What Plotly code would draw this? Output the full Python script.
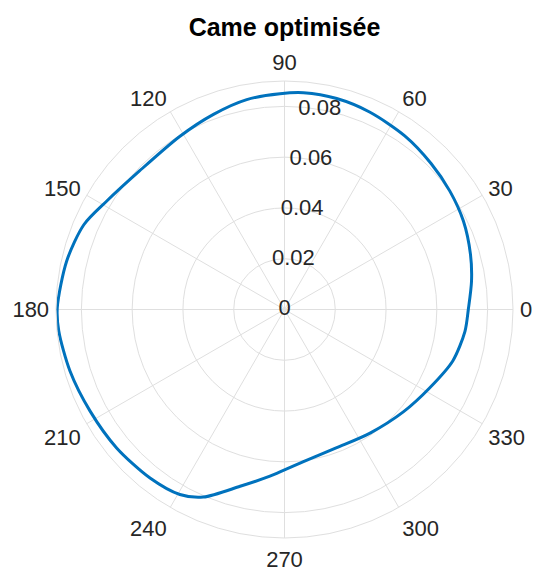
import plotly.graph_objects as go

# Cam profile: polar angle (degrees) and radius (m)
theta_deg = [0, 8.6, 16.5, 26.3, 35.6, 44.9, 55.3, 66.7, 76.1, 85, 91.2, 100.2,
             110, 121.1, 136.3, 148.6, 157.1, 167.5, 179.6, 185.5, 196, 207.6,
             219.5, 231.4, 240.5, 246.6, 255.9, 265, 268.4, 277.1, 290.7, 304.7,
             319.4, 331.7, 343, 353.1, 360]
radius = [0.0724, 0.0745, 0.0764, 0.0786, 0.0801, 0.0815, 0.0832, 0.0847, 0.0856,
          0.0857, 0.0850, 0.0840, 0.0818, 0.0797, 0.0790, 0.0820, 0.0858, 0.0879,
          0.0895, 0.0893, 0.0879, 0.0864, 0.0857, 0.0849, 0.0837, 0.0805, 0.0718,
          0.0659, 0.0640, 0.0604, 0.0582, 0.0592, 0.0618, 0.0650, 0.0693, 0.0716,
          0.0724]

r_ticks = [0, 0.02, 0.04, 0.06, 0.08]
r_tick_labels = ["0", "0.02", "0.04", "0.06", "0.08"]
theta_ticks = list(range(0, 360, 30))
theta_tick_labels = [str(t) for t in theta_ticks]
r_label_angle = 80
r_max = 0.09

title_text = "Came optimisée"

grid_col = "#DFDFDF"
text_col = "#262626"
line_col = "#0072BD"
font_family = "Arial, 'Liberation Sans', Helvetica, sans-serif"

fig = go.Figure()

fig.add_trace(go.Scatterpolar(
    r=radius, theta=theta_deg, mode="lines",
    line=dict(color=line_col, width=3, shape="spline", smoothing=0.8),
    hoverinfo="skip", showlegend=False,
))

# Radial tick labels set along the 80-degree spoke
fig.add_trace(go.Scatterpolar(
    r=r_ticks, theta=[r_label_angle] * len(r_ticks), mode="text",
    text=r_tick_labels, textposition="middle center",
    textfont=dict(size=22, color=text_col, family=font_family),
    hoverinfo="skip", showlegend=False, cliponaxis=False,
))

fig.update_layout(
    width=534, height=572,
    margin=dict(l=56, r=21, t=81, b=34),
    paper_bgcolor="white",
    font=dict(family=font_family, color=text_col),
    title=dict(text="<b>" + title_text + "</b>", x=284.5 / 534, xanchor="center",
               y=1 - 27 / 572, yanchor="middle", yref="container",
               font=dict(size=25, color="black", family=font_family)),
    polar=dict(
        bgcolor="white",
        domain=dict(x=[0, 1], y=[0, 1]),
        radialaxis=dict(range=[0, r_max], tickvals=r_ticks[1:], showticklabels=False,
                        ticks="", showline=False, gridcolor=grid_col, gridwidth=1),
        angularaxis=dict(direction="counterclockwise", rotation=0,
                         tickvals=theta_ticks, ticktext=theta_tick_labels,
                         ticks="outside", ticklen=2, tickcolor="rgba(0,0,0,0)",
                         showline=True, linecolor=grid_col, linewidth=1,
                         gridcolor=grid_col, gridwidth=1,
                         tickfont=dict(size=22, color=text_col, family=font_family)),
    ),
)

fig.write_html("out.html")
